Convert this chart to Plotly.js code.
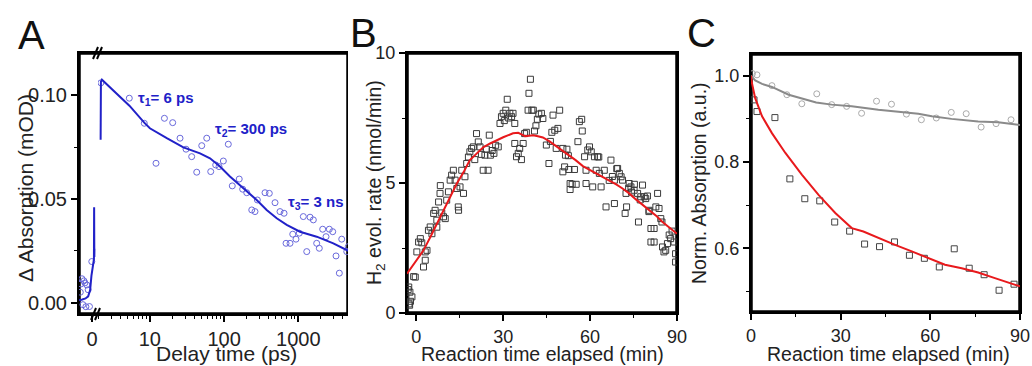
<!DOCTYPE html>
<html><head><meta charset="utf-8">
<script src="https://cdn.plot.ly/plotly-3.0.1.min.js"></script>
<style>html,body{margin:0;padding:0;background:#fff}#chart{width:1032px;height:366px}</style>
</head><body><div id="chart"></div>
<script>
// ---------- Panel A : transient absorption ----------
const aEarlyTime = [-1.8,-1.7,-1.55,-1.4,-1.25,-1.1,-0.95,-0.8,-0.6,-0.4,-0.05];
const aEarlyAbs  = [0.005,0.009,0.0115,-0.001,0.0105,0.0095,-0.002,0.0085,0.0062,-0.0019,0.0198];
const aEarlyFitTime = [-2,-1.85,-1.5,-1.0,-0.6,-0.3,-0.1,0.1,0.28,0.31,0.34,0.36];
const aEarlyFitAbs  = [0.0015,0.0012,0.0015,0.002,0.003,0.006,0.013,0.019,0.021,0.046,0.022,0.026];
const aTime = [2.19,5.28,8.41,12.1,15.7,20.3,25.5,30.7,36.6,42.8,50.0,58.4,66.1,77.1,85.5,97.7,114,129,160,178,202,236,261,281,356,407,486,567,643,684,774,842,931,1032,1169,1300,1440,1595,1770,1920,2133,2365,2620,2910,3225,3575,3850,4500,4720];
const aAbs  = [0.106,0.0986,0.0865,0.0672,0.0889,0.0868,0.0793,0.0740,0.0704,0.0629,0.0757,0.0793,0.0632,0.0664,0.0656,0.0683,0.0764,0.0563,0.0596,0.0547,0.0530,0.0447,0.0439,0.0495,0.0530,0.0527,0.0482,0.0439,0.0431,0.0286,0.0286,0.0330,0.0306,0.0335,0.0415,0.0246,0.0412,0.0399,0.0286,0.0262,0.0354,0.0318,0.0354,0.0342,0.0225,0.0142,0.0306,0.0246,0.0270];
const aFitTime = [2.17,2.19,2.26,3.5,5.3,8.4,10,16.9,28.3,47.4,64.6,88.1,120,182,275,375,512,698,1054,1770,2965,4700];
const aFitAbs  = [0.0785,0.1065,0.1075,0.101,0.095,0.0868,0.0841,0.0793,0.0749,0.072,0.0696,0.0656,0.0608,0.0552,0.0495,0.0447,0.0407,0.0375,0.0342,0.0318,0.0286,0.0250];
const aLabels = ['τ<sub>1</sub>= 6 ps','τ<sub>2</sub>= 300 ps','τ<sub>3</sub>= 3 ns'];
const aLinRange = [-2, 0.9];
const aLogRange = [2, 4677];
const aAbsRange = [-0.0055, 0.1204];

// ---------- Panel B : H2 evolution rate ----------
const bTime = [-2.8,-2.6,-2.5,-2.3,-2.2,-2.0,-1.5,-0.9,-0.35,
 0.2,0.8,1.4,1.9,2.5,3.1,3.1,3.7,4.2,4.8,5.4,
 6.0,6.5,7.1,7.1,7.7,8.2,8.3,8.8,9.4,10.0,10.5,
 11.1,11.7,12.2,12.8,13.4,14.0,14.5,14.6,15.1,15.7,16.3,16.8,17.4,18.0,18.5,19.1,19.7,20.2,20.8,21.4,22.0,22.5,
 23.1,23.7,24.2,24.8,25.2,25.6,26.2,26.8,27.4,28.3,28.9,29.4,30.0,30.4,30.9,31.4,31.9,32.3,32.9,33.4,34.0,34.0,
 34.6,35.2,35.7,36.3,36.9,37.4,38.0,38.6,38.9,39.4,39.9,40.4,40.8,41.3,41.8,42.3,
 43.2,43.7,47.2,49.5,47.8,48.9,44.9,45.8,48.3,50.6,51.5,51.2,50.6,52.7,54.6,53.1,53.8,53.1,55.8,56.3,57.3,58.1,59.2,59.8,58.6,58.6,60.9,61.5,62.6,62.1,63.2,63.8,64.9,65.5,67.2,68.4,68.4,69.5,70.1,70.7,71.2,72.4,72.6,72.1,73.5,74.1,75.2,76.4,77.5,78.1,78.7,79.2,76.7,80.4,83.3,82.7,83.8,84.4,81.0,82.1,81.0,82.1,85.0,86.1,86.7,87.8,89.0,89.5,89.5,85.5,
 46.3,46.8,52.0,52.5,55.2,57.1,60.4,63.0,66.6,67.7,69.2,73.3,74.3,75.3,77.3,79.8,80.3,84.8,87.3,88.3];
const bRate = [0.9,1.0,0.35,0.3,0.8,0.45,0.62,1.4,1.38,
 2.35,2.73,2.86,2.7,1.77,2.03,2.35,2.41,3.18,3.31,3.05,
 3.83,3.95,3.57,3.3,4.27,4.6,4.9,3.85,3.7,3.63,4.34,
 4.66,5.11,5.3,5.49,5.11,4.79,4.08,3.95,4.85,5.49,4.6,5.24,5.75,6.0,6.2,6.33,6.39,5.9,6.9,6.58,6.39,6.1,
 5.49,6.07,6.3,5.49,6.84,6.07,6.25,6.14,6.45,6.39,7.29,7.55,7.68,7.4,7.8,8.22,7.5,7.68,7.55,7.68,7.29,6.52,
 6.01,6.14,6.33,5.9,6.52,6.9,6.95,7.8,8.45,8.99,7.8,7.8,7.0,7.2,7.45,7.65,
 7.68,7.48,7.61,7.8,7.03,7.1,6.46,5.75,6.33,6.33,6.07,5.62,5.43,5.52,5.52,4.98,4.95,4.75,6.59,7.36,7.0,6.01,6.27,6.39,5.49,4.98,4.85,6.01,6.01,5.49,5.37,4.85,5.49,4.08,5.88,4.21,5.11,5.56,5.37,5.24,5.11,4.6,4.08,3.83,4.98,4.85,4.72,4.6,4.47,4.92,4.47,4.4,3.5,3.95,4.6,4.08,4.02,3.63,3.25,3.25,2.73,2.73,2.54,2.41,2.67,2.86,2.73,1.96,2.28,2.35,
 6.6,6.95,6.3,6.05,4.95,7.45,6.2,6.0,5.1,5.25,5.55,4.8,4.65,4.95,4.35,4.5,3.9,3.5,3.0,3.15];
const bFitTime = [-3.2,0,2.5,5,8.25,11,14,16.5,18.5,21,23.1,25.5,27.7,30,33.4,35.2,36.5,37.5,39,40.3,42,43.7,46,48.3,50.5,52.9,55,57.5,60,62.1,64.5,66.6,69,71.2,73.5,75.8,78,80.4,83,85,87.3,90];
const bFitRate = [1.51,2.0,2.41,2.95,3.7,4.3,4.98,5.45,5.88,6.15,6.37,6.52,6.65,6.76,6.91,6.93,6.86,6.80,6.82,6.84,6.80,6.75,6.6,6.42,6.25,6.07,5.88,5.65,5.5,5.37,5.2,5.08,4.95,4.79,4.6,4.37,4.18,3.95,3.72,3.5,3.3,3.05];
const bTimeRange = [-3.2, 90];
const bRateRange = [0, 10];

// ---------- Panel C : normalised absorption ----------
const cGrayTime = [0.5,2,7,12,17,22,27,32,37,42,47,52,57,62,67,72,77,82,87];
const cGrayAbs  = [1.005,1.002,0.977,0.956,0.935,0.958,0.933,0.929,0.913,0.941,0.934,0.911,0.898,0.902,0.915,0.912,0.881,0.889,0.898];
const cGrayFitTime = [0,1.4,3.7,7,12.6,21.8,27,33.7,42.6,48.2,56,60.5,67.1,76,82.7,90];
const cGrayFitAbs  = [1.0,0.989,0.981,0.974,0.956,0.938,0.933,0.929,0.921,0.917,0.912,0.906,0.900,0.894,0.892,0.886];
const cRedTime = [1,2,8,13,18,23,28,33,38,43,48,53,58,63,68,73,78,83,88];
const cRedAbs  = [0.944,0.917,0.903,0.761,0.715,0.710,0.661,0.640,0.610,0.604,0.615,0.584,0.577,0.557,0.599,0.554,0.539,0.503,0.517];
const cRedFitTime = [0,0.3,1.4,3.7,7,11.5,17,22.6,28.2,33.7,37.6,42.6,48.2,53.8,59.3,64.9,70.5,76,81.6,86.9,90];
const cRedFitAbs  = [1.0,0.983,0.948,0.906,0.867,0.821,0.771,0.724,0.682,0.647,0.639,0.624,0.608,0.593,0.577,0.562,0.554,0.544,0.531,0.520,0.512];
const cTimeRange = [0, 90];
const cAbsRange = [0.4526, 1.0503];

// ---------- drawing ----------
const W = 1032, H = 366;
const px = v => v / W, py = v => 1 - v / H;
const FONT = 'Arial, "Liberation Sans", sans-serif';
const blue = '#2121c8', blueDot = '#6a6adc';

function ax(size, extra) {
  return Object.assign({
    showline: true, linecolor: '#000', linewidth: 2,
    ticks: 'outside', ticklen: 6, tickwidth: 2, tickcolor: '#000',
    showgrid: false, zeroline: false,
    tickfont: {size: size, color: '#222', family: FONT}
  }, extra);
}
function minor(extra) {
  return Object.assign({ticks: 'outside', ticklen: 3, tickwidth: 1, tickcolor: '#000'}, extra);
}
// frame outline drawn through the axes from the axis ranges
function frame(xr, yr, xa, ya, sides) {
  const xs = [], ys = [];
  const corners = {bl: [xr[0], yr[0]], br: [xr[1], yr[0]], tr: [xr[1], yr[1]], tl: [xr[0], yr[1]]};
  sides.forEach(function (c) { xs.push(corners[c][0]); ys.push(corners[c][1]); });
  return {x: xs, y: ys, xaxis: xa, yaxis: ya, mode: 'lines', type: 'scatter', hoverinfo: 'skip',
          line: {color: '#000', width: 3.5}};
}

const traces = [
  frame(aLinRange, aAbsRange, 'x', 'y', ['br', 'bl', 'tl', 'tr']),
  frame(aLogRange, aAbsRange, 'x2', 'y', ['bl', 'br', 'tr', 'tl']),
  frame(bTimeRange, bRateRange, 'x3', 'y3', ['bl', 'br', 'tr', 'tl', 'bl']),
  frame(cTimeRange, cAbsRange, 'x4', 'y4', ['bl', 'br', 'tr', 'tl', 'bl']),
  {x: aEarlyTime, y: aEarlyAbs, xaxis: 'x', yaxis: 'y', mode: 'markers', type: 'scatter',
   marker: {symbol: 'circle-open', size: 6, color: blueDot, line: {width: 1}}},
  {x: aEarlyFitTime, y: aEarlyFitAbs, xaxis: 'x', yaxis: 'y', mode: 'lines', type: 'scatter',
   line: {color: blue, width: 2}},
  {x: aTime, y: aAbs, xaxis: 'x2', yaxis: 'y', mode: 'markers', type: 'scatter',
   marker: {symbol: 'circle-open', size: 6, color: blueDot, line: {width: 1}}},
  {x: aFitTime, y: aFitAbs, xaxis: 'x2', yaxis: 'y', mode: 'lines', type: 'scatter',
   line: {color: blue, width: 2}},
  {x: bTime, y: bRate, xaxis: 'x3', yaxis: 'y3', mode: 'markers', type: 'scatter',
   marker: {symbol: 'square-open', size: 6, color: '#3a3a3a', line: {width: 1}}},
  {x: bFitTime, y: bFitRate, xaxis: 'x3', yaxis: 'y3', mode: 'lines', type: 'scatter',
   line: {color: '#e8191c', width: 2}},
  {x: cGrayTime, y: cGrayAbs, xaxis: 'x4', yaxis: 'y4', mode: 'markers', type: 'scatter',
   marker: {symbol: 'circle-open', size: 6, color: '#aaaaaa', line: {width: 1}}},
  {x: cGrayFitTime, y: cGrayFitAbs, xaxis: 'x4', yaxis: 'y4', mode: 'lines', type: 'scatter',
   line: {color: '#8a8a8a', width: 2}},
  {x: cRedTime, y: cRedAbs, xaxis: 'x4', yaxis: 'y4', mode: 'markers', type: 'scatter',
   marker: {symbol: 'square-open', size: 6, color: '#444444', line: {width: 1}}},
  {x: cRedFitTime, y: cRedFitAbs, xaxis: 'x4', yaxis: 'y4', mode: 'lines', type: 'scatter',
   line: {color: '#e8191c', width: 2}}
];

function seg(x0, y0, x1, y1) {
  return {type: 'line', xref: 'paper', yref: 'paper', x0: px(x0), x1: px(x1), y0: py(y0), y1: py(y1), line: {color: '#000', width: 2}};
}
function label(text, x, y, size, extra) {
  return Object.assign({text: text, xref: 'paper', yref: 'paper', x: px(x), y: py(y), xanchor: 'center', yanchor: 'middle',
    showarrow: false, font: {size: size, color: '#222', family: FONT}}, extra || {});
}

const layout = {
  width: W, height: H, margin: {l: 0, r: 0, t: 0, b: 0}, showlegend: false,
  xaxis: ax(20, {domain: [px(79), px(98)], anchor: 'y', range: aLinRange, tick0: 0, dtick: 5, mirror: true}),
  xaxis2: ax(20, {domain: [px(98), px(348)], anchor: 'y', type: 'log', range: aLogRange.map(Math.log10),
    dtick: 1, exponentformat: 'none', mirror: true, minor: minor({dtick: 'D1'})}),
  yaxis: ax(20, {domain: [py(314), py(53)], anchor: 'x', range: aAbsRange, tick0: 0, dtick: 0.05, tickformat: '.2f',
    minor: minor({dtick: 0.025, tick0: 0})}),
  xaxis3: ax(18, {domain: [px(407), px(677)], anchor: 'y3', range: bTimeRange, tick0: 0, dtick: 30, mirror: true,
    minor: minor({dtick: 15, tick0: 0})}),
  yaxis3: ax(18, {domain: [py(313), py(53)], anchor: 'x3', range: bRateRange, tick0: 0, dtick: 5, mirror: true,
    minor: minor({dtick: 2.5, tick0: 0})}),
  xaxis4: ax(18, {domain: [px(751), px(1020)], anchor: 'y4', range: cTimeRange, tick0: 0, dtick: 30, mirror: true,
    minor: minor({dtick: 15, tick0: 0})}),
  yaxis4: ax(18, {domain: [py(312), py(54)], anchor: 'x4', range: cAbsRange, tick0: 0.4, dtick: 0.2, tickformat: '.1f', mirror: true,
    minor: minor({dtick: 0.1, tick0: 0.5})}),
  shapes: [
    seg(93, 59, 98, 47), seg(97, 59, 102, 47),
    seg(91, 320, 96, 308), seg(95, 320, 100, 308)
  ],
  annotations: [
    label('A', 31, 35, 40, {font: {size: 40, color: '#111', family: FONT}}),
    label('B', 363, 33, 40, {font: {size: 40, color: '#111', family: FONT}}),
    label('C', 701, 33, 40, {font: {size: 40, color: '#111', family: FONT}}),
    label('Δ Absorption (mOD)', 25, 188, 21, {textangle: -90}),
    label('Delay time (ps)', 226, 353, 21),
    label('H<sub>2</sub> evol. rate (nmol/min)', 375, 183, 19.5, {textangle: -90}),
    label('Reaction time elapsed (min)', 542, 354, 19.5),
    label('Norm. Absorption (a.u.)', 699, 183, 19.5, {textangle: -90}),
    label('Reaction time elapsed (min)', 888, 354, 19.5),
    label('<b>' + aLabels[0] + '</b>', 136, 99, 15, {xanchor: 'left', font: {size: 15, color: blue, family: FONT}}),
    label('<b>' + aLabels[1] + '</b>', 213, 130, 15, {xanchor: 'left', font: {size: 15, color: blue, family: FONT}}),
    label('<b>' + aLabels[2] + '</b>', 286, 203, 15, {xanchor: 'left', font: {size: 15, color: blue, family: FONT}})
  ]
};

Plotly.newPlot('chart', traces, layout, {staticPlot: true, displayModeBar: false});
</script></body></html>
